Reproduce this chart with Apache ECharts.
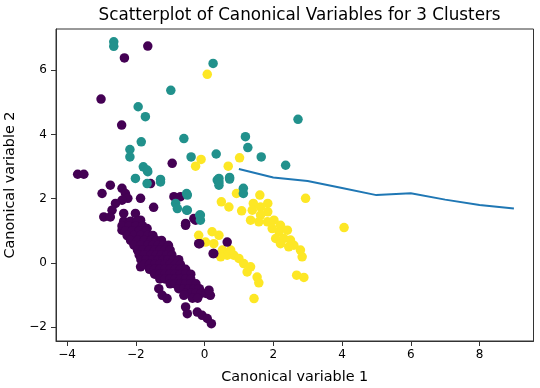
<!DOCTYPE html>
<html>
<head>
<meta charset="utf-8">
<script src="https://cdn.jsdelivr.net/npm/echarts@6/dist/echarts.min.js"></script>
<style>html,body{margin:0;padding:0;background:#fff}#c{width:540px;height:388px}</style>
</head>
<body>
<div id="c"></div>
<script>
const title = 'Scatterplot of Canonical Variables for 3 Clusters';
const xName = 'Canonical variable 1';
const yName = 'Canonical variable 2';
const xTicks = [-4, -2, 0, 2, 4, 6, 8];
const yTicks = [-2, 0, 2, 4, 6];

const cluster0 = [ // purple
  [-1.65,6.75],[-2.33,6.38],[-3.01,5.10],[-2.41,4.29],[-0.94,3.10],[-3.69,2.76],[-3.51,2.76],
  [-1.57,2.47],[-2.74,2.42],[-2.98,2.16],[-2.40,2.32],[-2.30,2.16],[-2.23,2.01],[-2.40,1.95],
  [-1.86,2.01],[-1.48,1.73],[-2.59,1.85],[-2.69,1.64],[-2.93,1.43],[-2.74,1.43],[-2.35,1.54],
  [-2.01,1.54],[-2.15,1.28],[-2.40,1.02],[-1.86,1.33],[-1.67,1.07],[-0.89,2.06],[-0.70,2.06],
  [-0.55,1.23],[-0.31,1.38],[-0.26,1.33],[-0.55,1.17],[-0.14,0.60],[-0.17,0.60],[0.27,0.29],
  [0.25,0.29],[0.66,0.65],[-1.86,-0.12],
  [-2.35,1.3],[-2.15,1.3],[-1.95,1.3],
  [-2.4,1.15],[-2.2,1.15],[-2.0,1.15],[-1.8,1.15],
  [-2.3,1.0],[-2.1,1.0],[-1.9,1.0],[-1.7,1.0],
  [-2.25,0.85],[-2.05,0.85],[-1.85,0.85],[-1.65,0.85],[-1.5,0.85],
  [-2.15,0.7],[-1.95,0.7],[-1.75,0.7],[-1.55,0.7],[-1.4,0.7],[-1.25,0.7],
  [-2.05,0.55],[-1.85,0.55],[-1.65,0.55],[-1.5,0.55],[-1.35,0.55],[-1.2,0.55],[-1.05,0.55],
  [-1.95,0.4],[-1.8,0.4],[-1.6,0.4],[-1.45,0.4],[-1.3,0.4],[-1.15,0.4],[-1.0,0.4],
  [-1.9,0.25],[-1.75,0.25],[-1.55,0.25],[-1.4,0.25],[-1.25,0.25],[-1.1,0.25],[-0.95,0.25],
  [-1.85,0.1],[-1.7,0.1],[-1.5,0.1],[-1.35,0.1],[-1.2,0.1],[-1.05,0.1],[-0.9,0.1],[-0.75,0.1],
  [-1.75,-0.05],[-1.6,-0.05],[-1.45,-0.05],[-1.3,-0.05],[-1.15,-0.05],[-1.0,-0.05],[-0.85,-0.05],[-0.7,-0.05],
  [-1.6,-0.2],[-1.45,-0.2],[-1.3,-0.2],[-1.15,-0.2],[-1.0,-0.2],[-0.85,-0.2],[-0.7,-0.2],[-0.55,-0.2],
  [-1.45,-0.35],[-1.3,-0.35],[-1.15,-0.35],[-1.0,-0.35],[-0.85,-0.35],[-0.7,-0.35],[-0.55,-0.35],[-0.4,-0.35],
  [-1.3,-0.5],[-1.15,-0.5],[-1.0,-0.5],[-0.85,-0.5],[-0.7,-0.5],[-0.55,-0.5],[-0.4,-0.5],
  [-1.0,-0.65],[-0.85,-0.65],[-0.7,-0.65],[-0.55,-0.65],[-0.4,-0.65],[-0.25,-0.65],
  [-0.75,-0.8],[-0.6,-0.8],[-0.45,-0.8],[-0.3,-0.8],[-0.15,-0.8],
  [-0.55,-0.95],[-0.4,-0.95],[-0.25,-0.95],[-0.1,-0.95],[0.05,-0.95],
  [-0.35,-1.1],[-0.2,-1.1],
  [-1.33,-0.80],[-1.23,-1.01],[-1.09,-1.11],[-0.60,-1.01],[-0.55,-1.37],[-0.50,-1.58],
  [-0.21,-1.53],[-0.07,-1.63],[0.08,-1.73],[0.20,-1.89],[0.17,-1.01],[0.13,-0.85]
];
const cluster1 = [ // teal
  [-2.64,6.88],[-2.64,6.74],[0.25,6.21],[-0.98,5.37],[-1.93,4.86],[-1.72,4.55],[-1.84,3.77],
  [-0.60,3.87],[-2.17,3.53],[-2.17,3.30],[-0.39,3.30],[0.34,3.39],[-1.78,2.99],[-1.65,2.84],
  [-2.01,2.63],[-1.28,2.60],[0.37,2.58],[2.72,4.47],[1.19,3.93],[1.26,3.59],[1.65,3.30],
  [2.36,3.04],[0.42,2.63],[0.73,2.66],[0.42,2.52],[0.42,2.42],[0.73,2.61],[1.13,2.32],
  [1.13,2.16],[-0.52,2.16],[-0.52,1.64],[-0.12,1.49],[-0.12,1.33],[-1.67,2.47],[-1.28,2.52],
  [-1.67,2.89],[-0.50,2.11],[-0.84,1.85],[-0.79,1.69],[-0.50,1.64],[-0.14,1.49]
];
const cluster2 = [ // yellow
  [0.08,5.87],[-0.10,3.22],[-0.26,3.01],[1.02,3.27],[0.69,3.01],[0.93,2.16],[0.49,1.90],
  [0.71,1.74],[1.08,1.62],[1.61,2.11],[2.94,2.01],[4.06,1.10],[2.68,-0.38],[2.89,-0.45],
  [1.44,-1.11],
  [1.42,1.85],[1.39,1.64],[1.63,1.74],[1.84,1.85],[1.84,1.59],[1.63,1.49],[1.34,1.33],
  [1.58,1.28],[1.83,1.28],[2.02,1.33],[2.21,1.17],[1.97,1.07],[2.17,0.97],[2.41,1.02],
  [2.07,0.76],[2.31,0.76],[2.50,0.71],[2.60,0.55],[2.79,0.40],[2.84,0.19],[2.45,0.50],
  [2.21,0.60],
  [-0.17,0.86],[0.22,0.97],[0.42,0.86],[0.03,0.65],[0.27,0.60],[0.52,0.40],[0.66,0.24],
  [0.85,0.24],[1.00,0.14],[1.14,-0.02],[1.34,-0.12],[1.24,-0.28],[1.53,-0.44],[1.58,-0.62],
  [0.47,0.19],[0.76,0.40]
];
const lineK = [1, 2, 3, 4, 5, 6, 7, 8, 9];
const lineVal = [2.92, 2.66, 2.55, 2.33, 2.11, 2.17, 1.97, 1.80, 1.69];

const font = 'DejaVu Sans';
const fmt = v => String(v).replace('-', '\u2212');
const chart = echarts.init(document.getElementById('c'), null, {renderer: 'canvas'});
const sym = 9.5;
chart.setOption({
  animation: false,
  backgroundColor: '#fff',
  title: {
    text: title, left: 294.6, top: 2, textAlign: 'center',
    textStyle: {fontFamily: font, fontSize: 16.8, fontWeight: 'normal', color: '#000'}
  },
  grid: {left: 56, right: 6.5, top: 29, bottom: 47, outerBoundsMode: 'none', containLabel: false,
    show: true, borderColor: '#333', borderWidth: 1, backgroundColor: 'transparent'},
  xAxis: {
    type: 'value', min: -4.32, max: 9.57,
    name: xName, nameLocation: 'middle', nameGap: 29,
    nameTextStyle: {fontFamily: font, fontSize: 14.4, color: '#000'},
    axisLine: {show: true, onZero: false, lineStyle: {color: '#333'}},
    axisTick: {show: true, length: 5, customValues: xTicks, lineStyle: {color: '#333'}},
    axisLabel: {customValues: xTicks, formatter: fmt, fontFamily: font, fontSize: 12, color: '#000', margin: 8},
    splitLine: {show: false}
  },
  yAxis: {
    type: 'value', min: -2.43, max: 7.28,
    name: yName, nameLocation: 'middle', nameGap: 39,
    nameTextStyle: {fontFamily: font, fontSize: 14.4, color: '#000'},
    axisLine: {show: true, onZero: false, lineStyle: {color: '#333'}},
    axisTick: {show: true, length: 5, customValues: yTicks, lineStyle: {color: '#333'}},
    axisLabel: {customValues: yTicks, formatter: fmt, fontFamily: font, fontSize: 12, color: '#000', margin: 9},
    splitLine: {show: false}
  },
  series: [
    {type: 'scatter', data: cluster2, symbolSize: sym, itemStyle: {color: '#fde725', opacity: 1}},
    {type: 'scatter', data: cluster0, symbolSize: sym, itemStyle: {color: '#440154', opacity: 1}},
    {type: 'scatter', data: cluster1, symbolSize: sym, itemStyle: {color: '#21918c', opacity: 1}},
    {type: 'line', data: lineK.map((k, i) => [k, lineVal[i]]), showSymbol: false, symbol: 'none',
     lineStyle: {color: '#1f77b4', width: 2}, z: 5}
  ]
});
</script>
</body>
</html>
